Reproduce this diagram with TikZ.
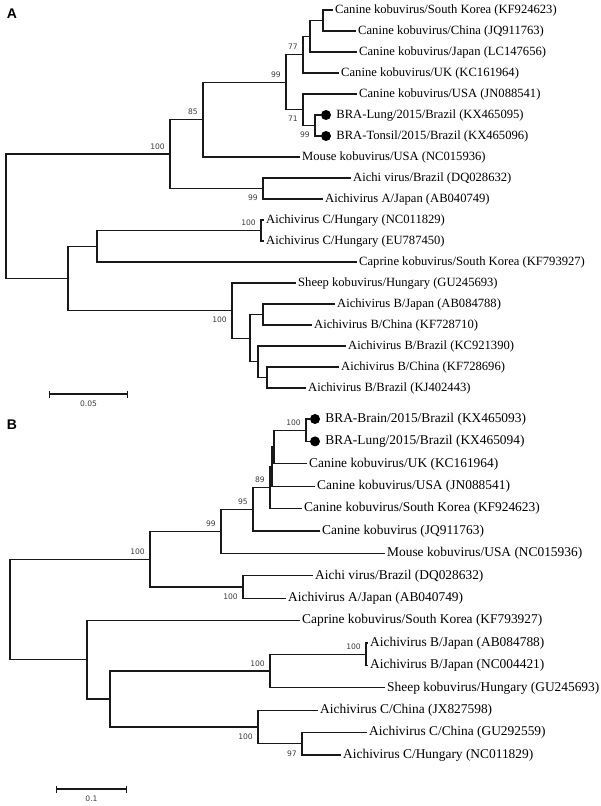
\documentclass[tikz,border=0pt]{standalone}
\usepackage{fontspec}
\setmainfont{Liberation Serif}
\newfontfamily\bsfont{DejaVu Sans}
\newfontfamily\panelfont{Liberation Sans}
\usetikzlibrary{arrows.meta,positioning}
\definecolor{branch}{RGB}{25,25,25}
\definecolor{support}{RGB}{60,60,60}

\begin{document}
\begin{tikzpicture}[x=1pt,y=-1pt,
  tree/.style={draw=branch,line width=1.1pt},
  leafA/.style={anchor=west,inner xsep=2pt,inner ysep=0pt,font=\fontsize{12.6}{14}\selectfont},
  leafB/.style={anchor=west,inner xsep=2pt,inner ysep=0pt,font=\fontsize{13.4}{15}\selectfont},
  strain/.style={circle,fill=black,inner sep=0pt,minimum size=10pt},
  bs/.style={inner sep=0pt,text=support,font=\bsfont\fontsize{7.6}{9}\selectfont},
  bsup/.style={bs,anchor=south east,xshift=-5pt,yshift=4.5pt},
  bsdn/.style={bs,anchor=north east,xshift=-5pt,yshift=-6.5pt},
  panel/.style={font=\panelfont\bfseries\fontsize{14}{16}\selectfont},
  scalebar/.style={draw=branch,line width=1.1pt,{Bar[width=7pt]}-{Bar[width=7pt]}}
]
\useasboundingbox (0,0) rectangle (600,806);

% ---------- panel A ----------
\node[panel] (pA) at (12,14) {A};
\foreach \i/\x/\t in {0/333/{Canine kobuvirus/South Korea (KF924623)},
    1/356/{Canine kobuvirus/China (JQ911763)},
    2/357/{Canine kobuvirus/Japan (LC147656)},
    3/339/{Canine kobuvirus/UK (KC161964)},
    4/357/{Canine kobuvirus/USA (JN088541)},
    7/300/{Mouse kobuvirus/USA (NC015936)},
    8/351/{Aichi virus/Brazil (DQ028632)},
    9/323/{Aichivirus A/Japan (AB040749)},
    10/264/{Aichivirus C/Hungary (NC011829)},
    11/264/{Aichivirus C/Hungary (EU787450)},
    12/357/{Caprine kobuvirus/South Korea (KF793927)},
    13/296/{Sheep kobuvirus/Hungary (GU245693)},
    14/335/{Aichivirus B/Japan (AB084788)},
    15/312/{Aichivirus B/China (KF728710)},
    16/346/{Aichivirus B/Brazil (KC921390)},
    17/339/{Aichivirus B/China (KF728696)},
    18/306/{Aichivirus B/Brazil (KJ402443)}}
  \node[leafA] (a\i) at (\x,{10+21*\i}) {\t};
% new strains
\node[strain] (a5) at (326,115) {};
\node[leafA,right=3pt of a5] (a5t) {BRA-Lung/2015/Brazil (KX465095)};
\node[strain] (a6) at (326,136) {};
\node[leafA,right=3pt of a6] (a6t) {BRA-Tonsil/2015/Brazil (KX465096)};

% internal nodes
\coordinate (aRoot) at (6,216.2);
\coordinate (aN100) at (170,154);
\coordinate (aN85) at (203,119.6);
\coordinate (aN99) at (286,82.2);
\coordinate (aN77) at (303,54.6);
\coordinate (aJp) at (310,36.25);
\coordinate (aSK) at (323,20.5);
\coordinate (aN71) at (303,109.75);
\coordinate (aBRA) at (315,125.5);
\coordinate (aAi) at (263,188.5);
\coordinate (aLow) at (68,278.4);
\coordinate (aCC) at (97,246.25);
\coordinate (aC) at (261,230.5);
\coordinate (aBS) at (232,310.6);
\coordinate (aBB) at (250,338.1);
\coordinate (aB1) at (263,314.5);
\coordinate (aB2) at (258,361.75);
\coordinate (aB3) at (267,377.5);

\draw[tree] (aRoot) |- (aN100) (aRoot) |- (aLow)
  (aN100) |- (aN85) (aN100) |- (aAi)
  (aN85) |- (aN99) (aN85) |- (a7)
  (aN99) |- (aN77) (aN99) |- (aN71)
  (aN77) |- (aJp) (aN77) |- (a3)
  (aJp) |- (aSK) (aJp) |- (a2)
  (aSK) |- (a0) (aSK) |- (a1)
  (aN71) |- (a4) (aN71) |- (aBRA)
  (aBRA) |- (a5) (aBRA) |- (a6)
  (aAi) |- (a8) (aAi) |- (a9)
  (aLow) |- (aCC) (aLow) |- (aBS)
  (aCC) |- (aC) (aCC) |- (a12)
  (aC) |- (a10) (aC) |- (a11)
  (aBS) |- (a13) (aBS) |- (aBB)
  (aBB) |- (aB1) (aBB) |- (aB2)
  (aB1) |- (a14) (aB1) |- (a15)
  (aB2) |- (a16) (aB2) |- (aB3)
  (aB3) |- (a17) (aB3) |- (a18);

% bootstrap values
\node[bsup] (sA1) at (aN100) {100};
\node[bsup] (sA2) at (aN85) {85};
\node[bsup] (sA3) at (aN99) {99};
\node[bsup] (sA4) at (aN77) {77};
\node[bsdn] (sA5) at (aN71) {71};
\node[bsdn] (sA6) at (aBRA) {99};
\node[bsdn] (sA7) at (aAi) {99};
\node[bsup] (sA8) at (aC) {100};
\node[bsdn] (sA9) at (aBS) {100};

% scale bar
\coordinate (aBarL) at (49,394);
\coordinate (aBarR) at (128,394);
\draw[scalebar] (aBarL) -- (aBarR) node[midway,bs,below=6pt] (aBarT) {0.05};

% ---------- panel B ----------
\node[panel] (pB) at (12,425) {B};
\foreach \i/\x/\t in {2/307/{Canine kobuvirus/UK (KC161964)},
    3/315/{Canine kobuvirus/USA (JN088541)},
    4/302/{Canine kobuvirus/South Korea (KF924623)},
    5/320/{Canine kobuvirus (JQ911763)},
    6/385/{Mouse kobuvirus/USA (NC015936)},
    7/313/{Aichi virus/Brazil (DQ028632)},
    8/286/{Aichivirus A/Japan (AB040749)},
    9/300/{Caprine kobuvirus/South Korea (KF793927)},
    10/368/{Aichivirus B/Japan (AB084788)},
    11/368/{Aichivirus B/Japan (NC004421)},
    12/385/{Sheep kobuvirus/Hungary (GU245693)},
    13/318/{Aichivirus C/China (JX827598)},
    14/367/{Aichivirus C/China (GU292559)},
    15/341/{Aichivirus C/Hungary (NC011829)}}
  \node[leafB] (b\i) at (\x,{419+22.4*\i}) {\t};
\node[strain] (b0) at (315,419) {};
\node[leafB,right=3pt of b0] (b0t) {BRA-Brain/2015/Brazil (KX465093)};
\node[strain] (b1) at (315,441.4) {};
\node[leafB,right=3pt of b1] (b1t) {BRA-Lung/2015/Brazil (KX465094)};

\coordinate (bRoot) at (10,609.5);
\coordinate (bN100) at (150,559.2);
\coordinate (bN99) at (221,531.35);
\coordinate (bN95) at (253,509.3);
\coordinate (bN89) at (270,487.6);
\coordinate (bN3) at (272,466.6);
\coordinate (bN2) at (274,447);
\coordinate (bBRA) at (306,430.2);
\coordinate (bAi) at (243,587);
\coordinate (bCap) at (87,659.8);
\coordinate (bBC) at (110,699);
\coordinate (bBS) at (270,671);
\coordinate (bJp) at (366,654.2);
\coordinate (bC) at (258,727);
\coordinate (bC97) at (302,743.8);

\draw[tree] (bRoot) |- (bN100) (bRoot) |- (bCap)
  (bN100) |- (bN99) (bN100) |- (bAi)
  (bN99) |- (bN95) (bN99) |- (b6)
  (bN95) |- (bN89) (bN95) |- (b5)
  (bN89) |- (bN3) (bN89) |- (b4)
  (bN3) |- (bN2) (bN3) |- (b3)
  (bN2) |- (bBRA) (bN2) |- (b2)
  (bBRA) |- (b0) (bBRA) |- (b1)
  (bAi) |- (b7) (bAi) |- (b8)
  (bCap) |- (b9) (bCap) |- (bBC)
  (bBC) |- (bBS) (bBC) |- (bC)
  (bBS) |- (bJp) (bBS) |- (b12)
  (bJp) |- (b10) (bJp) |- (b11)
  (bC) |- (b13) (bC) |- (bC97)
  (bC97) |- (b14) (bC97) |- (b15);

\node[bsup] (sB1) at (bBRA) {100};
\node[bsup] (sB2) at (bN89) {89};
\node[bsup] (sB3) at (bN95) {95};
\node[bsup] (sB4) at (bN99) {99};
\node[bsup] (sB5) at (bN100) {100};
\node[bsdn] (sB6) at (bAi) {100};
\node[bsup] (sB7) at (bJp) {100};
\node[bsup] (sB8) at (bBS) {100};
\node[bsdn] (sB9) at (bC) {100};
\node[bsdn] (sB10) at (bC97) {97};

\coordinate (bBarL) at (56,789);
\coordinate (bBarR) at (127,789);
\draw[scalebar] (bBarL) -- (bBarR) node[midway,bs,below=6pt] (bBarT) {0.1};
\end{tikzpicture}
\end{document}
